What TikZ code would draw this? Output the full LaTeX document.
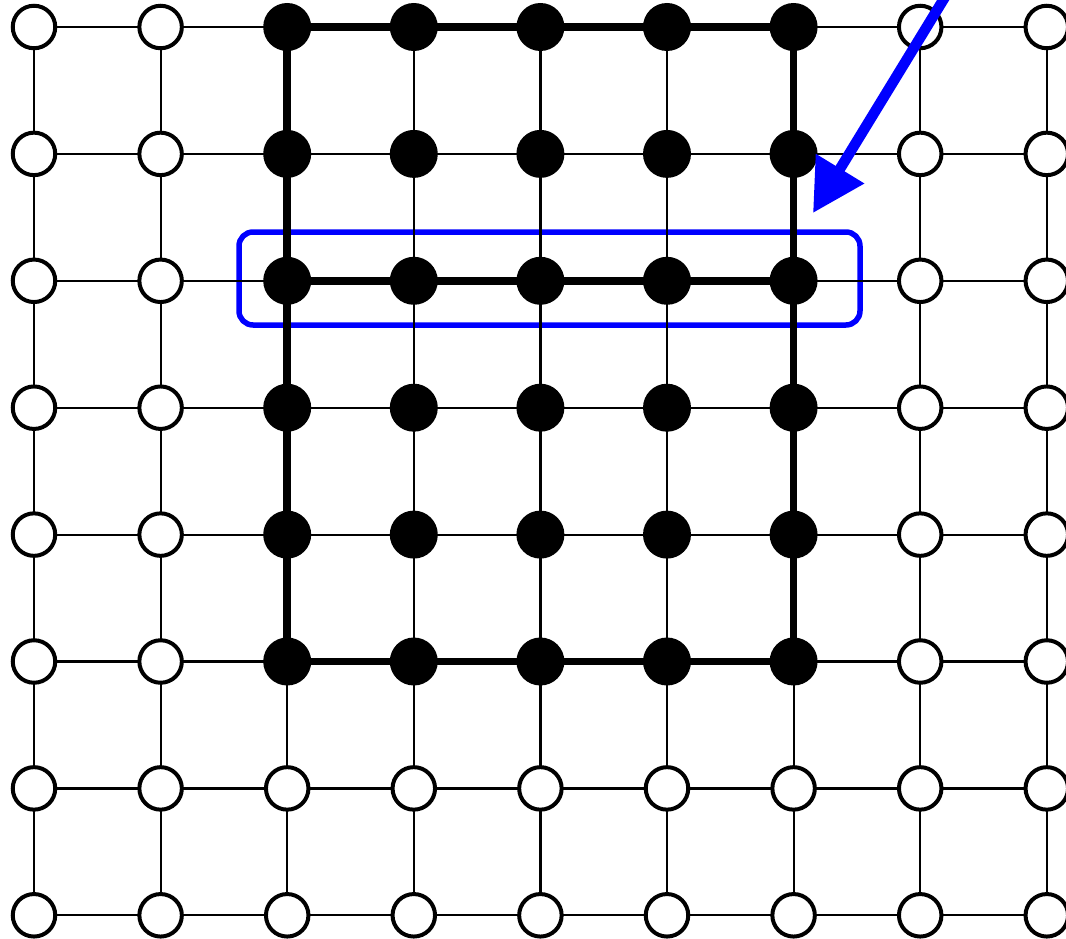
\documentclass[tikz,border=0pt]{standalone}
\usetikzlibrary{arrows.meta}
\pgfdeclarelayer{bg}
\pgfsetlayers{bg,main}
\begin{document}
\begin{tikzpicture}[x=1pt,y=-1pt,
  opennode/.style={circle,draw=black,line width=4pt,fill=white,minimum size=42.5pt,inner sep=0pt},
  fullnode/.style={circle,fill=black,minimum size=48pt,inner sep=0pt},
  gridline/.style={line width=2.2pt},
  heavy/.style={line width=7.5pt,line join=round},
  hl/.style={draw=blue,line width=5.5pt,rounded corners=14pt},
  pointer/.style={draw=blue,line width=10.5pt,-{Triangle[length=52pt,width=54pt]}}]
\useasboundingbox (0,0) rectangle (1066,939);
\clip (0,0) rectangle (1066,939);
\foreach \i in {0,...,8}{
  \foreach \j in {0,...,7}{
    \pgfmathtruncatemacro\isfull{and(and(\i>1,\i<7),\j<6)}
    \ifnum\isfull=1
      \node[fullnode] (n-\i-\j) at ({34+126.6*\i},{27+126.9*\j}) {};
    \else
      \node[opennode] (n-\i-\j) at ({34+126.6*\i},{27+126.9*\j}) {};
    \fi
  }
}
\begin{pgfonlayer}{bg}
  \draw[hl] (239,232) rectangle (860,325);
  \foreach \i in {0,...,7}{
    \pgfmathtruncatemacro\k{\i+1}
    \foreach \j in {0,...,7}{
      \draw[gridline] (n-\i-\j.center) -- (n-\k-\j.center);
    }
  }
  \foreach \i in {0,...,8}{
    \foreach \j in {0,...,6}{
      \pgfmathtruncatemacro\k{\j+1}
      \draw[gridline] (n-\i-\j.center) -- (n-\i-\k.center);
    }
  }
  \draw[heavy] (n-2-0.center) -- (n-6-0.center) -- (n-6-5.center) -- (n-2-5.center) -- cycle;
  \draw[heavy] (n-2-2.center) -- (n-6-2.center);
\end{pgfonlayer}
\coordinate (src) at (956,-21);
\coordinate (tip) at (813,213);
\draw[pointer] (src) -- (tip);
\end{tikzpicture}
\end{document}
